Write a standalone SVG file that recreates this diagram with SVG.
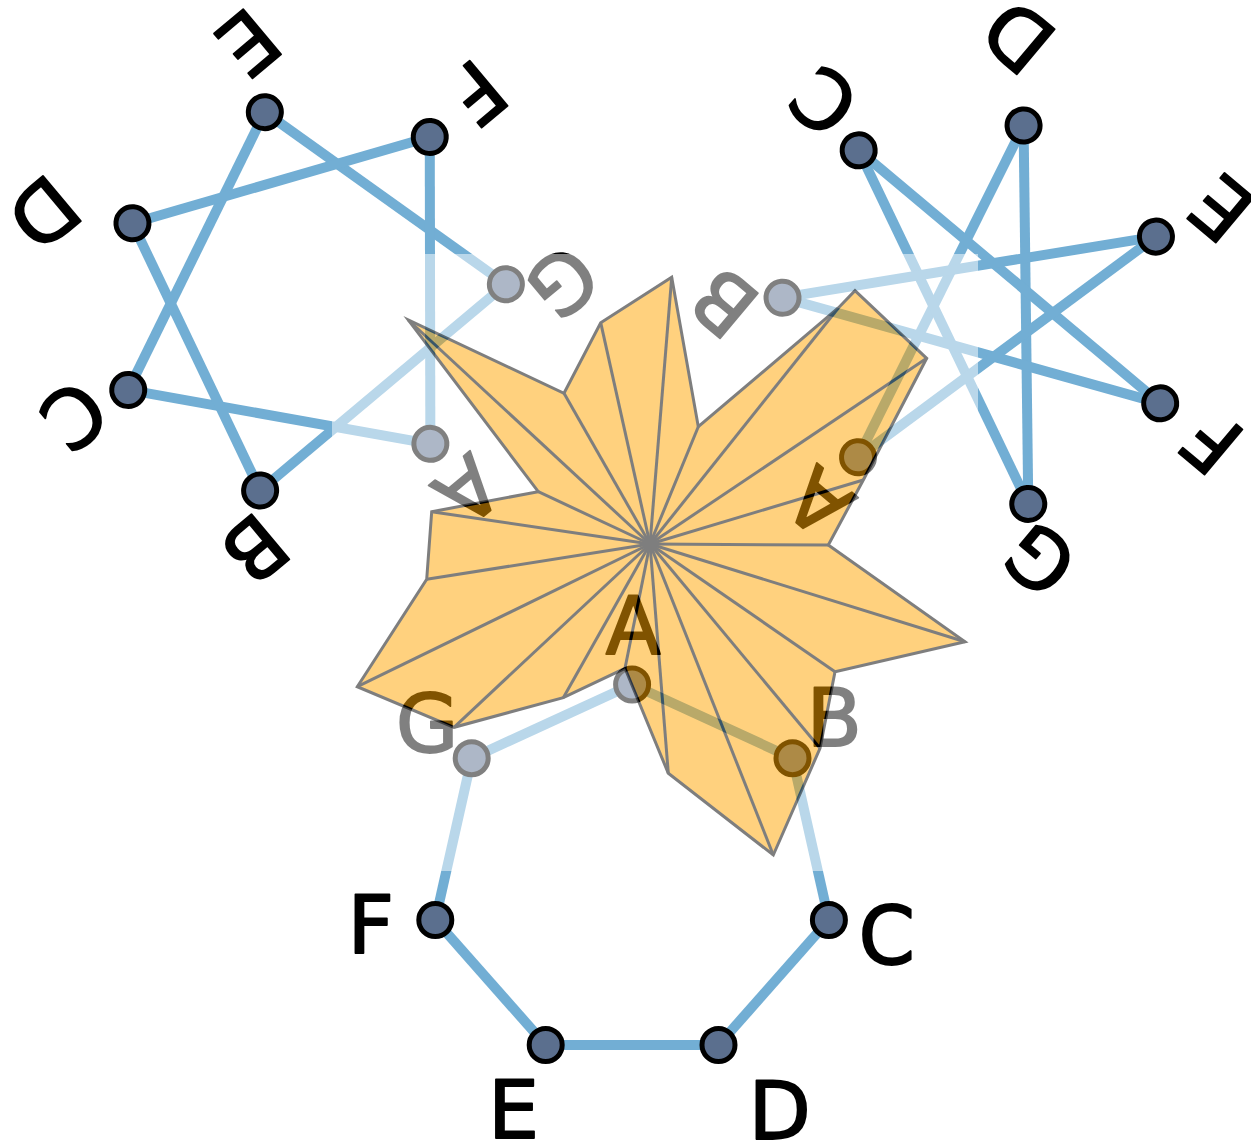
<svg xmlns="http://www.w3.org/2000/svg" width="1251" height="1143" viewBox="0 0 1251 1143">
<style>
.e{stroke:#72AED4;stroke-width:10;fill:none}
.n{fill:#5B6F8E;stroke:#000;stroke-width:5}
.l{font-family:"DejaVu Sans",sans-serif;font-size:81px;text-anchor:middle;fill:#000;stroke:#000;stroke-width:1.8;stroke-linejoin:round}
.star{fill:#FFA500;stroke:#000;stroke-width:3;stroke-linejoin:miter;stroke-miterlimit:20}
.r{stroke:#000;stroke-width:3}
</style>
<defs>
<polygon id="starShape" points="671.7,277.3 698.3,426.7 838.3,308 855,290.7 926.7,358.3 863.3,480 828.3,545 965,641.7 835,671.7 820,748.3 773.3,855 668.3,773.3 625,668.3 563.3,697.7 454,727.3 357.3,686.7 426.7,579.3 431.7,511.7 538.3,491.7 408.3,320 564,393.3 600.7,322.7"/>
</defs>
<rect width="1251" height="1143" fill="#fff"/>
<g id="connectors">
<g id="conn-bottom" transform="translate(632.1,875.8)">
<line class="e" x1="0" y1="-191.3" x2="160.4" y2="-117.6"/>
<line class="e" x1="160.4" y1="-117.6" x2="196.8" y2="44.2"/>
<line class="e" x1="196.8" y1="44.2" x2="86.4" y2="169.2"/>
<line class="e" x1="86.4" y1="169.2" x2="-86.4" y2="169.2"/>
<line class="e" x1="-86.4" y1="169.2" x2="-196.8" y2="44.2"/>
<line class="e" x1="-196.8" y1="44.2" x2="-160.4" y2="-117.6"/>
<line class="e" x1="-160.4" y1="-117.6" x2="0" y2="-191.3"/>
</g>
<g id="conn-topleft" transform="translate(307.4,297.3) rotate(140)">
<line class="e" x1="0" y1="-191.3" x2="196.8" y2="44.2"/>
<line class="e" x1="196.8" y1="44.2" x2="-86.4" y2="169.2"/>
<line class="e" x1="-86.4" y1="169.2" x2="-160.4" y2="-117.6"/>
<line class="e" x1="-160.4" y1="-117.6" x2="160.4" y2="-117.6"/>
<line class="e" x1="160.4" y1="-117.6" x2="86.4" y2="169.2"/>
<line class="e" x1="86.4" y1="169.2" x2="-196.8" y2="44.2"/>
<line class="e" x1="-196.8" y1="44.2" x2="0" y2="-191.3"/>
</g>
<g id="conn-topright" transform="translate(981,310.7) rotate(220)">
<line class="e" x1="0" y1="-191.3" x2="86.4" y2="169.2"/>
<line class="e" x1="86.4" y1="169.2" x2="-160.4" y2="-117.6"/>
<line class="e" x1="-160.4" y1="-117.6" x2="196.8" y2="44.2"/>
<line class="e" x1="196.8" y1="44.2" x2="-196.8" y2="44.2"/>
<line class="e" x1="-196.8" y1="44.2" x2="160.4" y2="-117.6"/>
<line class="e" x1="160.4" y1="-117.6" x2="-86.4" y2="169.2"/>
<line class="e" x1="-86.4" y1="169.2" x2="0" y2="-191.3"/>
</g>
</g>
<g id="heptagon-bottom" transform="translate(632.1,875.8)">
<g id="b-A"><circle class="n" cx="0" cy="-191.3" r="16.5"/><text class="l" x="1" y="-222">A</text></g>
<g id="b-B"><circle class="n" cx="160.4" cy="-117.6" r="16.5"/><text class="l" x="202.1" y="-130">B</text></g>
<g id="b-C"><circle class="n" cx="196.8" cy="44.2" r="16.5"/><text class="l" x="254.8" y="88.6">C</text></g>
<g id="b-D"><circle class="n" cx="86.4" cy="169.2" r="16.5"/><text class="l" x="147.7" y="263">D</text></g>
<g id="b-E"><circle class="n" cx="-86.4" cy="169.2" r="16.5"/><text class="l" x="-118.4" y="262">E</text></g>
<g id="b-F"><circle class="n" cx="-196.8" cy="44.2" r="16.5"/><text class="l" x="-261.2" y="77.1">F</text></g>
<g id="b-G"><circle class="n" cx="-160.4" cy="-117.6" r="16.5"/><text class="l" x="-205" y="-123.7">G</text></g>
</g>
<g id="heptagram-topleft" transform="translate(307.4,297.3) rotate(140)">
<g id="tl-A"><circle class="n" cx="0" cy="-191.3" r="16.5"/><text class="l" x="1" y="-222">A</text></g>
<g id="tl-B"><circle class="n" cx="160.4" cy="-117.6" r="16.5"/><text class="l" x="202.1" y="-130">B</text></g>
<g id="tl-C"><circle class="n" cx="196.8" cy="44.2" r="16.5"/><text class="l" x="254.8" y="88.6">C</text></g>
<g id="tl-D"><circle class="n" cx="86.4" cy="169.2" r="16.5"/><text class="l" x="147.7" y="263">D</text></g>
<g id="tl-E"><circle class="n" cx="-86.4" cy="169.2" r="16.5"/><text class="l" x="-118.4" y="262">E</text></g>
<g id="tl-F"><circle class="n" cx="-196.8" cy="44.2" r="16.5"/><text class="l" x="-261.2" y="77.1">F</text></g>
<g id="tl-G"><circle class="n" cx="-160.4" cy="-117.6" r="16.5"/><text class="l" x="-205" y="-123.7">G</text></g>
</g>
<g id="heptagram-topright" transform="translate(981,310.7) rotate(220)">
<g id="tr-A"><circle class="n" cx="0" cy="-191.3" r="16.5"/><text class="l" x="1" y="-222">A</text></g>
<g id="tr-B"><circle class="n" cx="160.4" cy="-117.6" r="16.5"/><text class="l" x="202.1" y="-130">B</text></g>
<g id="tr-C"><circle class="n" cx="196.8" cy="44.2" r="16.5"/><text class="l" x="254.8" y="88.6">C</text></g>
<g id="tr-D"><circle class="n" cx="86.4" cy="169.2" r="16.5"/><text class="l" x="147.7" y="263">D</text></g>
<g id="tr-E"><circle class="n" cx="-86.4" cy="169.2" r="16.5"/><text class="l" x="-118.4" y="262">E</text></g>
<g id="tr-F"><circle class="n" cx="-196.8" cy="44.2" r="16.5"/><text class="l" x="-261.2" y="77.1">F</text></g>
<g id="tr-G"><circle class="n" cx="-160.4" cy="-117.6" r="16.5"/><text class="l" x="-205" y="-123.7">G</text></g>
</g>
<path id="fade" fill="#fff" fill-opacity="0.5" fill-rule="evenodd" d="M332,254 H978 V871 H332 Z M671.7,277.3 L698.3,426.7 L838.3,308 L855,290.7 L926.7,358.3 L863.3,480 L828.3,545 L965,641.7 L835,671.7 L820,748.3 L773.3,855 L668.3,773.3 L625,668.3 L563.3,697.7 L454,727.3 L357.3,686.7 L426.7,579.3 L431.7,511.7 L538.3,491.7 L408.3,320 L564,393.3 L600.7,322.7 Z"/>
<g id="star" opacity="0.5">
<use href="#starShape" class="star"/>
<g class="r">
<line x1="650" y1="544" x2="671.7" y2="277.3"/>
<line x1="650" y1="544" x2="698.3" y2="426.7"/>
<line x1="650" y1="544" x2="838.3" y2="308"/>
<line x1="650" y1="544" x2="926.7" y2="358.3"/>
<line x1="650" y1="544" x2="863.3" y2="480"/>
<line x1="650" y1="544" x2="828.3" y2="545"/>
<line x1="650" y1="544" x2="965" y2="641.7"/>
<line x1="650" y1="544" x2="835" y2="671.7"/>
<line x1="650" y1="544" x2="820" y2="748.3"/>
<line x1="650" y1="544" x2="773.3" y2="855"/>
<line x1="650" y1="544" x2="668.3" y2="773.3"/>
<line x1="650" y1="544" x2="625" y2="668.3"/>
<line x1="650" y1="544" x2="563.3" y2="697.7"/>
<line x1="650" y1="544" x2="454" y2="727.3"/>
<line x1="650" y1="544" x2="357.3" y2="686.7"/>
<line x1="650" y1="544" x2="426.7" y2="579.3"/>
<line x1="650" y1="544" x2="431.7" y2="511.7"/>
<line x1="650" y1="544" x2="538.3" y2="491.7"/>
<line x1="650" y1="544" x2="408.3" y2="320"/>
<line x1="650" y1="544" x2="564" y2="393.3"/>
<line x1="650" y1="544" x2="600.7" y2="322.7"/>
</g>
</g>
</svg>
